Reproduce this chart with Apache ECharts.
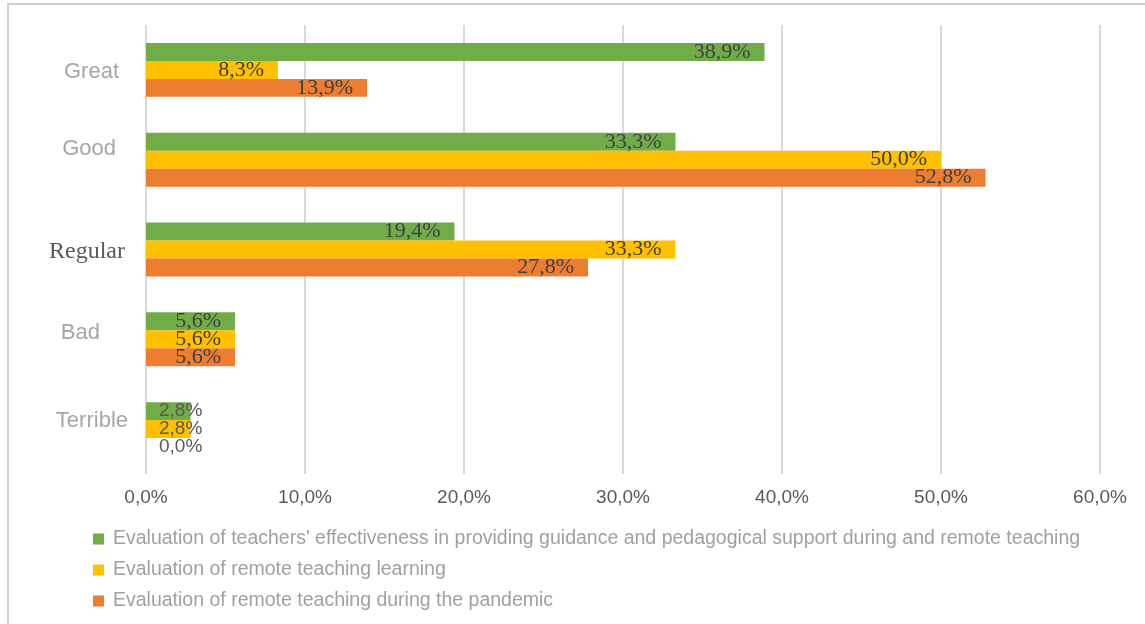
<!DOCTYPE html>
<html><head><meta charset="utf-8">
<script src="https://cdn.jsdelivr.net/npm/echarts@6/dist/echarts.min.js"></script>
<style>html,body{margin:0;padding:0;background:#fff}#c{width:1145px;height:624px}</style>
</head><body><div id="c"></div>
<script>
var categories = ['Great', 'Good', 'Regular', 'Bad', 'Terrible'];
var seriesNames = [
  "Evaluation of teachers' effectiveness in providing guidance and pedagogical support during and remote teaching",
  "Evaluation of remote teaching learning",
  "Evaluation of remote teaching during the pandemic"
];
var teachersEffectiveness = [38.9, 33.3, 19.4, 5.6, 2.8];
var remoteLearning = [8.3, 50.0, 33.3, 5.6, 2.8];
var remotePandemic = [13.9, 52.8, 27.8, 5.6, 0.0];
var xTicks = [0, 10, 20, 30, 40, 50, 60];
var colors = ['#70AD47', '#FFC000', '#ED7D31'];

function fmt(v) { return v.toFixed(1).replace('.', ',') + '%'; }

function buildData(arr) {
  return arr.map(function (v, i) {
    var item = { value: v };
    if (categories[i] === 'Terrible') {
      item.label = {
        position: 'insideLeft', distance: 13,
        fontFamily: 'Liberation Sans', fontSize: 19, color: '#595959'
      };
    }
    return item;
  });
}

var chart = echarts.init(document.getElementById('c'));
chart.setOption({
  animation: false,
  color: colors,
  grid: { left: 146, right: 45, top: 25, bottom: 150, containLabel: false },
  xAxis: {
    type: 'value', min: 0, max: 60, interval: 10,
    axisLine: { show: false }, axisTick: { show: false },
    splitLine: { lineStyle: { color: '#d9d9d9', width: 2 } },
    axisLabel: {
      margin: 14, color: '#595959', fontSize: 19, fontFamily: 'Liberation Sans',
      formatter: function (v) { return fmt(v); }
    }
  },
  yAxis: {
    type: 'category', inverse: true, data: categories,
    axisLine: { show: false }, axisTick: { show: false },
    axisLabel: {
      margin: 18,
      formatter: function (v) { return '{' + (v === 'Regular' ? 'serif' : 'sans') + v + '|' + v + '}'; },
      rich: {
        sansGreat: { fontFamily: 'Liberation Sans', fontSize: 22, color: '#a6a6a6', padding: [4, 9, 0, 0] },
        sansGood: { fontFamily: 'Liberation Sans', fontSize: 22, color: '#a6a6a6', padding: [0, 12, 22, 0] },
        serifRegular: { fontFamily: 'Liberation Serif', fontSize: 24, color: '#595959', padding: [4, 3, 0, 0] },
        sansBad: { fontFamily: 'Liberation Sans', fontSize: 22, color: '#a6a6a6', padding: [0, 28, 12, 0] },
        sansTerrible: { fontFamily: 'Liberation Sans', fontSize: 22, color: '#a6a6a6', padding: [0, 0, 16, 0] }
      }
    }
  },
  legend: {
    orient: 'vertical', left: 88, top: 524, itemGap: 11,
    itemWidth: 11, itemHeight: 11, icon: 'rect',
    textStyle: { color: '#a0a0a0', fontSize: 19.5, fontFamily: 'Liberation Sans', padding: [0, 0, 0, 4] },
    data: seriesNames
  },
  graphic: [
    { type: 'line', shape: { x1: 7, y1: 4, x2: 1145, y2: 4 }, style: { stroke: '#d0d0d0', lineWidth: 2 } },
    { type: 'line', shape: { x1: 8, y1: 4, x2: 8, y2: 624 }, style: { stroke: '#d0d0d0', lineWidth: 2 } }
  ],
  series: [teachersEffectiveness, remoteLearning, remotePandemic].map(function (arr, k) {
    return {
      name: seriesNames[k], type: 'bar', data: buildData(arr),
      barGap: '0%', barCategoryGap: '40%',
      label: {
        show: true, position: 'insideRight', distance: 14,
        fontFamily: 'Liberation Serif', fontSize: 22, color: '#404040',
        formatter: function (p) { return fmt(p.value); }
      }
    };
  })
});
</script></body></html>
